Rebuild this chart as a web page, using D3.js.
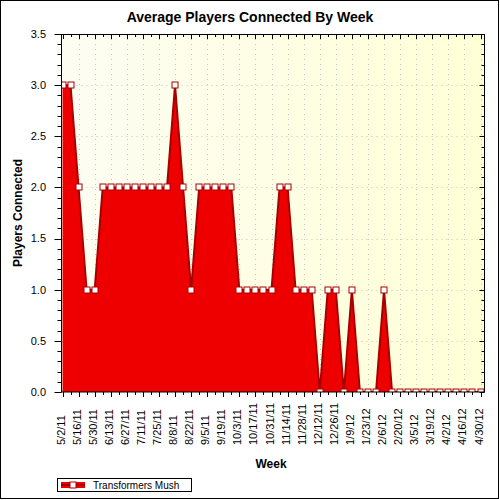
<!DOCTYPE html>
<html>
<head>
<meta charset="utf-8">
<script src="https://cdn.jsdelivr.net/npm/d3@7"></script>
<style>
  body { margin: 0; background: #fff; }
  svg { display: block; font-family: "Liberation Sans", Arial, sans-serif; }
</style>
</head>
<body>
<div id="chart"></div>
<script>
'use strict';

// weekly categories (one point per week)
var weeks = ['5/2/11', '5/9/11', '5/16/11', '5/23/11', '5/30/11', '6/6/11', '6/13/11', '6/20/11', '6/27/11',
  '7/4/11', '7/11/11', '7/18/11', '7/25/11', '8/1/11', '8/8/11', '8/15/11', '8/22/11', '8/29/11',
  '9/5/11', '9/12/11', '9/19/11', '9/26/11', '10/3/11', '10/10/11', '10/17/11', '10/24/11', '10/31/11',
  '11/7/11', '11/14/11', '11/21/11', '11/28/11', '12/5/11', '12/12/11', '12/19/11', '12/26/11',
  '1/2/12', '1/9/12', '1/16/12', '1/23/12', '1/30/12', '2/6/12', '2/13/12', '2/20/12', '2/27/12',
  '3/5/12', '3/12/12', '3/19/12', '3/26/12', '4/2/12', '4/9/12', '4/16/12', '4/23/12', '4/30/12'];

// average players connected, Transformers Mush
var players = [3, 3, 2, 1, 1, 2, 2, 2, 2, 2, 2, 2, 2, 2, 3, 2, 1, 2, 2, 2, 2, 2,
  1, 1, 1, 1, 1, 2, 2, 1, 1, 1, 0, 1, 1, 0, 1, 0, 0, 0, 1,
  0, 0, 0, 0, 0, 0, 0, 0, 0, 0, 0, 0];

// only every other week gets a label
var tickLabels = ['5/2/11', '5/16/11', '5/30/11', '6/13/11', '6/27/11', '7/11/11', '7/25/11', '8/8/11',
  '8/22/11', '9/5/11', '9/19/11', '10/3/11', '10/17/11', '10/31/11', '11/14/11', '11/28/11',
  '12/12/11', '12/26/11', '1/9/12', '1/23/12', '2/6/12', '2/20/12', '3/5/12', '3/19/12',
  '4/2/12', '4/16/12', '4/30/12'];

var yTicks = [0, 0.5, 1, 1.5, 2, 2.5, 3, 3.5];

var seriesName = 'Transformers Mush';
var title = 'Average Players Connected By Week';

var W = 500, H = 500;
var plot = {left: 61.5, right: 484.5, top: 34, bottom: 392};

var fillRed = '#ee0000', lineRed = '#a80000';

var svg = d3.select('#chart').append('svg')
  .attr('width', W)
  .attr('height', H);

var defs = svg.append('defs');
var grad = defs.append('linearGradient')
  .attr('id', 'bg')
  .attr('x1', '0%').attr('y1', '0%')
  .attr('x2', '100%').attr('y2', '0%');
grad.append('stop').attr('offset', '0%').attr('stop-color', '#fdfdf3');
grad.append('stop').attr('offset', '100%').attr('stop-color', '#ffffd6');

defs.append('clipPath').attr('id', 'clip')
  .append('rect')
  .attr('x', plot.left).attr('y', plot.top)
  .attr('width', plot.right - plot.left)
  .attr('height', plot.bottom - plot.top);

// Scales
var x = d3.scaleLinear()
  .domain([0, weeks.length - 1])
  .range([62.5, 480.5]);

var y = d3.scaleLinear()
  .domain([0, 3.5])
  .range([plot.bottom, plot.top]);

// outer frame
svg.append('rect')
  .attr('x', 0.5).attr('y', 0.5)
  .attr('width', 498).attr('height', 498)
  .attr('fill', '#fff')
  .attr('stroke', '#000');

// plot background
svg.append('rect')
  .attr('x', plot.left).attr('y', plot.top)
  .attr('width', plot.right - plot.left)
  .attr('height', plot.bottom - plot.top)
  .attr('fill', 'url(#bg)');

// grid lines (dotted)
var grid = svg.append('g')
  .attr('stroke', '#c4c4c4')
  .attr('stroke-width', 1)
  .attr('stroke-dasharray', '1,4');

grid.selectAll('.hgrid')
  .data(yTicks.filter(function(d) { return d > 0 && d < 3.5; }))
  .enter().append('line')
  .attr('x1', plot.left).attr('x2', plot.right)
  .attr('y1', function(d) { return Math.round(y(d)) + 0.5; })
  .attr('y2', function(d) { return Math.round(y(d)) + 0.5; });

grid.selectAll('.vgrid')
  .data(tickLabels.slice(1))
  .enter().append('line')
  .attr('x1', function(d) { return Math.round(x(weeks.indexOf(d))) + 0.5; })
  .attr('x2', function(d) { return Math.round(x(weeks.indexOf(d))) + 0.5; })
  .attr('y1', plot.top).attr('y2', plot.bottom);

// area + line + markers
var series = players.map(function(v, i) { return {i: i, v: v}; });

var dataG = svg.append('g').attr('clip-path', 'url(#clip)');

dataG.append('path')
  .datum(series)
  .attr('fill', fillRed)
  .attr('d', d3.area()
    .x(function(d) { return x(d.i); })
    .y0(y(0))
    .y1(function(d) { return y(d.v); }));

dataG.append('path')
  .datum(series)
  .attr('fill', 'none')
  .attr('stroke', lineRed)
  .attr('stroke-width', 2)
  .attr('stroke-linejoin', 'miter')
  .attr('d', d3.line()
    .x(function(d) { return x(d.i); })
    .y(function(d) { return y(d.v); }));

dataG.selectAll('.marker')
  .data(series)
  .enter().append('rect')
  .attr('class', 'marker')
  .attr('x', function(d) { return Math.round(x(d.i)) - 3; })
  .attr('y', function(d) { return Math.round(y(d.v)) - 3; })
  .attr('width', 6).attr('height', 6)
  .attr('fill', '#fff')
  .attr('stroke', lineRed)
  .attr('stroke-width', 1);

// plot border
svg.append('rect')
  .attr('x', plot.left).attr('y', plot.top + 0.5)
  .attr('width', plot.right - plot.left)
  .attr('height', plot.bottom - plot.top - 0.5)
  .attr('fill', 'none')
  .attr('stroke', '#000');

// y ticks: minor every 0.1, major every 0.5
var yMinor = d3.range(0, 36).map(function(d) { return d / 10; });
var ticks = svg.append('g').attr('stroke', '#000').attr('stroke-width', 1);

ticks.selectAll('.ytl')
  .data(yMinor)
  .enter().append('line')
  .attr('x1', function(d, i) { return plot.left - (i % 5 === 0 ? 7 : 4); })
  .attr('x2', plot.left)
  .attr('y1', function(d) { return Math.round(y(d)) + 0.5; })
  .attr('y2', function(d) { return Math.round(y(d)) + 0.5; });

ticks.selectAll('.ytr')
  .data(yMinor)
  .enter().append('line')
  .attr('x1', function(d, i) { return plot.right - (i % 5 === 0 ? 5 : 3); })
  .attr('x2', plot.right)
  .attr('y1', function(d) { return Math.round(y(d)) + 0.5; })
  .attr('y2', function(d) { return Math.round(y(d)) + 0.5; });

// x ticks: every week, longer on labelled weeks
ticks.selectAll('.xtb')
  .data(weeks)
  .enter().append('line')
  .attr('x1', function(d, i) { return Math.round(x(i)) + 0.5; })
  .attr('x2', function(d, i) { return Math.round(x(i)) + 0.5; })
  .attr('y1', plot.bottom)
  .attr('y2', function(d) { return plot.bottom + (tickLabels.indexOf(d) >= 0 ? 5 : 3); });

ticks.selectAll('.xtt')
  .data(weeks)
  .enter().append('line')
  .attr('x1', function(d, i) { return Math.round(x(i)) + 0.5; })
  .attr('x2', function(d, i) { return Math.round(x(i)) + 0.5; })
  .attr('y1', plot.top)
  .attr('y2', function(d) { return plot.top + (tickLabels.indexOf(d) >= 0 ? 5 : 3); });

// y tick labels
svg.selectAll('.ylab')
  .data(yTicks)
  .enter().append('text')
  .attr('x', 46)
  .attr('y', function(d) { return y(d); })
  .attr('dy', '0.35em')
  .attr('text-anchor', 'end')
  .attr('font-size', 11)
  .attr('fill', '#000')
  .text(function(d) { return d3.format('.1f')(d); });

// x tick labels, rotated, reading upwards
svg.selectAll('.xlab')
  .data(tickLabels)
  .enter().append('text')
  .attr('transform', function(d) {
    return 'translate(' + (x(weeks.indexOf(d)) + 2) + ',445) rotate(-90)';
  })
  .attr('text-anchor', 'start')
  .attr('font-size', 11)
  .attr('fill', '#000')
  .text(function(d) { return d; });

// titles
svg.append('text')
  .attr('x', 250).attr('y', 22)
  .attr('text-anchor', 'middle')
  .attr('font-size', 14)
  .attr('font-weight', 'bold')
  .text(title);

svg.append('text')
  .attr('x', 271).attr('y', 468)
  .attr('text-anchor', 'middle')
  .attr('font-size', 12)
  .attr('font-weight', 'bold')
  .text('Week');

svg.append('text')
  .attr('transform', 'translate(21.5,' + ((plot.top + plot.bottom) / 2) + ') rotate(-90)')
  .attr('text-anchor', 'middle')
  .attr('font-size', 12)
  .attr('font-weight', 'bold')
  .text('Players Connected');

// legend
var legend = svg.append('g');
legend.append('rect')
  .attr('x', 57.5).attr('y', 478.5)
  .attr('width', 134).attr('height', 13)
  .attr('fill', '#fff')
  .attr('stroke', '#000');
legend.append('rect')
  .attr('x', 61).attr('y', 482)
  .attr('width', 24).attr('height', 6)
  .attr('fill', fillRed);
legend.append('line')
  .attr('x1', 61).attr('x2', 85)
  .attr('y1', 485).attr('y2', 485)
  .attr('stroke', lineRed)
  .attr('stroke-width', 2);
legend.append('rect')
  .attr('x', 70).attr('y', 482)
  .attr('width', 6).attr('height', 6)
  .attr('fill', '#fff')
  .attr('stroke', lineRed);
legend.append('text')
  .attr('x', 93).attr('y', 488.5)
  .attr('font-size', 10)
  .text(seriesName);
</script>
</body>
</html>
